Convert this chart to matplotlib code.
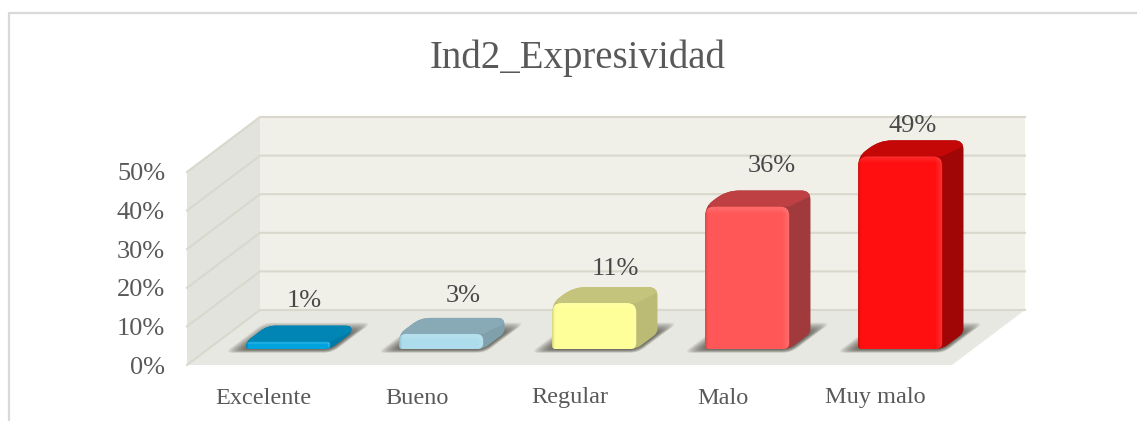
#!/usr/bin/env python3
"""Ind2_Expresividad: fake 3D rounded column chart."""

import math

import matplotlib
matplotlib.use('Agg')
import matplotlib.pyplot as plt
from matplotlib.patches import PathPatch, Polygon
from matplotlib.path import Path

categories = ['Excelente', 'Bueno', 'Regular', 'Malo', 'Muy malo']
values = [1, 3, 11, 36, 49]
tick_values = [0, 10, 20, 30, 40, 50]
title = 'Ind2_Expresividad'

front_colors = ['#00A3DE', '#ADDCEC', '#FFFF99', '#FF5757', '#FF0F0F']
top_colors = ['#0085B5', '#88A9B6', '#C4C47C', '#BF4042', '#C40808']
side_colors = ['#007BA8', '#80A0AC', '#BBBB75', '#A03A3C', '#A00606']

# label nudges in pixels, relative to the back top edge of each bar
label_dx = [-5, 1, 0, 3, -9]
label_dy = [25, 22, 18, 25, 14]

W, H = 1137, 421
PX_CAT = 153.0     # pixels per category
PX_PCT = 3.86      # pixels per percent
X0, Y0 = 187.0, 365.0   # front left corner of the floor, in pixels
DEPTH_X = 73.0 / PX_CAT
DEPTH_Y = 55.0 / PX_PCT


def proj(x, y, d):
    """Move a point on the front plane back by depth d (0 to 1)."""
    return x + d * DEPTH_X, y + d * DEPTH_Y


def rounded(points, radii):
    """Closed path through points, each corner rounded by a radius in pixels."""
    n = len(points)
    verts, codes = [], []
    for i in range(n):
        p = points[i]
        a = points[i - 1]
        b = points[(i + 1) % n]
        len_a = math.hypot((a[0] - p[0]) * PX_CAT, (a[1] - p[1]) * PX_PCT)
        len_b = math.hypot((b[0] - p[0]) * PX_CAT, (b[1] - p[1]) * PX_PCT)
        ra = min(0.5, radii[i] / max(len_a, 0.01))
        rb = min(0.5, radii[i] / max(len_b, 0.01))
        verts.append((p[0] + (a[0] - p[0]) * ra, p[1] + (a[1] - p[1]) * ra))
        codes.append(Path.LINETO if i else Path.MOVETO)
        verts += [p, (p[0] + (b[0] - p[0]) * rb, p[1] + (b[1] - p[1]) * rb)]
        codes += [Path.CURVE3, Path.CURVE3]
    verts.append(verts[0])
    codes.append(Path.CLOSEPOLY)
    return Path(verts, codes)


plt.rcParams['font.family'] = ['Liberation Serif', 'DejaVu Serif']
text_color = '#595959'

fig = plt.figure(figsize=(W / 100, H / 100), dpi=100, facecolor='white')
ax = fig.add_axes([0, 0, 1, 1])
ax.set_xlim(-0.5 - X0 / PX_CAT, -0.5 + (W - X0) / PX_CAT)
ax.set_ylim((Y0 - H) / PX_PCT, Y0 / PX_PCT)
ax.axis('off')
x_min, x_max = ax.get_xlim()
y_min, y_max = ax.get_ylim()

# outer chart frame, only left and top show
fx = x_min + 8.5 / PX_CAT
fy = y_max - 13.5 / PX_PCT
ax.plot([fx, fx, x_max], [y_min, fy, fy], color='#D9D9D9', lw=1.6, zorder=0)

# walls and floor
x_l, x_r = -0.5, len(categories) - 0.5
y_top = tick_values[-1]
ax.add_patch(Polygon([proj(x_l, 0, 1), proj(x_r, 0, 1), proj(x_r, y_top, 1), proj(x_l, y_top, 1)],
                     fc='#F0F0E9', ec='none', zorder=1))
ax.add_patch(Polygon([proj(x_l, 0, 0), proj(x_l, 0, 1), proj(x_l, y_top, 1), proj(x_l, y_top, 0)],
                     fc='#E3E3DE', ec='none', zorder=1))
ax.add_patch(Polygon([proj(x_l, 0, 0), proj(x_r, 0, 0), proj(x_r, 0, 1), proj(x_l, 0, 1)],
                     fc='#E8E8E3', ec='none', zorder=1))
for t in tick_values:
    xs, ys = zip(proj(x_l, t, 0), proj(x_l, t, 1), proj(x_r, t, 1))
    ax.plot(xs, ys, color='#D8D8CC', lw=1.5, zorder=2, solid_joinstyle='miter')
    ax.text(x_l - 22 / PX_CAT, t - 2.5 / PX_PCT, f'{t}%', ha='right', va='center',
            fontsize=19, color=text_color)

# bars
BAR_W = 84.0 / PX_CAT
BAR_CAP = 3.5 / PX_PCT   # rounded bevel makes the bars a little taller than the scale
D_FRONT, D_BACK = 16.0 / 55.0, 32.0 / 55.0
SHIFT = 3.5 / PX_CAT
SHADOW_STEPS = 16

for i, (cat, val) in enumerate(zip(categories, values)):
    xa = i + SHIFT - BAR_W / 2
    xb = i + SHIFT + BAR_W / 2
    h = val + BAR_CAP
    h_px = h * PX_PCT
    r = min(9, h_px * 0.45)
    r_out = max(r, 6)

    # soft shadow on the floor: many faint shapes, growing outwards
    for k in range(SHADOW_STEPS):
        grow = 1 - k / SHADOW_STEPS
        gx = 17 * grow / PX_CAT
        d0 = D_FRONT - 0.07 * grow
        d1 = D_BACK + 0.19 * grow
        s_pts = [proj(xa - gx, 0, d0), proj(xb + gx * 0.4, 0, d0),
                 proj(xb + gx * 0.4, 0, d1), proj(xa - gx, 0, d1)]
        ax.add_patch(PathPatch(rounded(s_pts, [8] * 4), fc='#35352C', ec='none',
                               alpha=0.065, zorder=3))

    # whole outline of the bar, in the side colour
    outline = [proj(xa, 0, D_FRONT), proj(xb, 0, D_FRONT), proj(xb, 0, D_BACK),
               proj(xb, h, D_BACK), proj(xa, h, D_BACK), proj(xa, h, D_FRONT)]
    body = PathPatch(rounded(outline, [3, 6, 4, r_out, r_out * 1.4, r_out]),
                     fc=side_colors[i], ec='none', zorder=4)
    ax.add_patch(body)

    # top face, cut to the outline
    top = [proj(xa, h, D_FRONT), proj(xb, h, D_FRONT), proj(xb + 0.1, h, D_BACK + 0.1), proj(xa - 0.1, h, D_BACK + 0.1)]
    top_patch = Polygon(top, fc=top_colors[i], ec='none', zorder=5)
    ax.add_patch(top_patch)
    top_patch.set_clip_path(body)

    # front face with its bevel strips
    front = [proj(xa, 0, D_FRONT), proj(xb, 0, D_FRONT), proj(xb, h, D_FRONT), proj(xa, h, D_FRONT)]
    front_patch = PathPatch(rounded(front, [3, 6, r, r_out]), fc=front_colors[i], ec='none', zorder=6)
    ax.add_patch(front_patch)

    for bevel, alpha in ((6, 0.04), (4, 0.04), (2, 0.04)):
        bevel = min(bevel, h_px * 0.35)
        bx = bevel / PX_CAT
        by = bevel / PX_PCT
        strips = [
            ([(xb - bx, -1), (xb, -1), (xb, h), (xb - bx, h)], 'white', alpha),
            ([(xa, h - by), (xb, h - by), (xb, h), (xa, h)], 'white', alpha),
            ([(xa, -1), (xa + bx * 0.5, -1), (xa + bx * 0.5, h), (xa, h)], 'black', alpha),
        ]
        for pts, col, a in strips:
            pts = [proj(px, py, D_FRONT) for px, py in pts]
            strip = Polygon(pts, fc=col, ec='none', alpha=a, zorder=7)
            ax.add_patch(strip)
            strip.set_clip_path(front_patch)

    lx, ly = proj(i + SHIFT, h, D_BACK)
    ax.text(lx + label_dx[i] / PX_CAT, ly + label_dy[i] / PX_PCT, f'{val}%', ha='center', va='center',
            fontsize=19, color='#484848', zorder=8)

    ax.text(i, -33 / PX_PCT, cat, ha='center', va='center',
            fontsize=17.5, color=text_color)

ax.text(x_min + 578 / PX_CAT, y_max - 58 / PX_PCT, title, ha='center', va='center',
        fontsize=28, color=text_color)

fig.savefig('out.png', dpi=100, facecolor='white')
